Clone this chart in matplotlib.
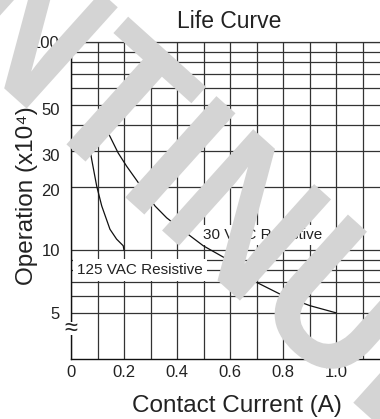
import matplotlib
matplotlib.use("Agg")
import matplotlib.pyplot as plt
from matplotlib.font_manager import FontProperties
from matplotlib.patches import PathPatch
from matplotlib.textpath import TextPath
from matplotlib.transforms import Affine2D, ScaledTranslation
from matplotlib.ticker import FixedLocator, NullFormatter

plt.rcParams['font.family'] = ['Liberation Sans', 'DejaVu Sans']

# life curve, 125 VAC resistive load
vac_current = [0.066, 0.078, 0.097, 0.116, 0.147, 0.172, 0.197, 0.2]
vac_ops = [34.0, 27.3, 20.3, 16.3, 12.6, 11.3, 10.5, 10.0]

# life curve, 30 VDC resistive load
vdc_current = [0.105, 0.147, 0.178, 0.21, 0.254, 0.317, 0.361, 0.399,
               0.499, 0.588, 0.675, 0.801, 0.902, 1.0]
vdc_ops = [44.0, 35.2, 29.3, 25.3, 21.1, 16.3, 14.3, 13.1,
           10.5, 9.06, 7.27, 6.04, 5.41, 5.0]

x_ticks = [0, 0.2, 0.4, 0.6, 0.8, 1.0]
x_labels = ['0', '0.2', '0.4', '0.6', '0.8', '1.0']
x_minor = [0.1, 0.3, 0.5, 0.7, 0.9, 1.1]
y_ticks = [5, 10, 20, 30, 50, 100]
y_labels = ['5', '10', '20', '30', '50', '100']
y_minor = [6, 7, 8, 9, 40, 60, 70, 80, 90]

W, H = 380, 419
fig = plt.figure(figsize=(W / 100, H / 100), dpi=100)
ax = fig.add_axes([71 / W, 60 / H, 1.2 * 265 / W, 317 / H])

ax.set_yscale('log')
ax.set_xlim(0, 1.2)
ax.set_ylim(3, 100)

ax.xaxis.set_major_locator(FixedLocator(x_ticks))
ax.set_xticklabels(x_labels)
ax.xaxis.set_minor_locator(FixedLocator(x_minor))
ax.yaxis.set_major_locator(FixedLocator(y_ticks))
ax.set_yticklabels(y_labels)
ax.yaxis.set_minor_locator(FixedLocator(y_minor))
ax.yaxis.set_minor_formatter(NullFormatter())
ax.tick_params(which='both', length=0)
ax.tick_params(axis='x', pad=4.5, labelsize=12, colors='#222222')
ax.tick_params(axis='y', pad=8, labelsize=12, colors='#222222')

# a few y labels sit slightly below their lines on the sheet
for lab in ax.get_yticklabels():
    dy = {'50': -4.5, '30': -4.5, '20': -3}.get(lab.get_text(), 0)
    if dy:
        lab.set_transform(lab.get_transform() + ScaledTranslation(0, dy / 100, fig.dpi_scale_trans))

ax.grid(which='both', color='#333333', linewidth=0.9)
for side in ['left', 'bottom']:
    ax.spines[side].set_color('#111111')
    ax.spines[side].set_linewidth(1.0)
ax.spines['top'].set_color('#333333')
ax.spines['top'].set_linewidth(0.9)
ax.spines['right'].set_visible(False)

ax.plot(vac_current, vac_ops, color='#111111', lw=0.9, zorder=4)
ax.plot(vdc_current, vdc_ops, color='#111111', lw=0.9, zorder=4)

ax.text(0.0226, 7.67, '125 VAC Resistive', fontsize=11, va='baseline',
        color='#222222', bbox=dict(facecolor='white', edgecolor='none', pad=3), zorder=3)
ax.text(0.498, 11.29, '30 VDC Resistive', fontsize=11, va='baseline',
        color='#222222', bbox=dict(facecolor='white', edgecolor='none', pad=2), zorder=3)

# axis break mark on the y axis
ax.vlines(0, 3.9, 4.51, color='white', lw=3, zorder=5, clip_on=False)
ax.text(0, 4.17, '≈', fontsize=17, ha='center', va='center',
        color='#222222', zorder=6, clip_on=False)

fig.text(229 / W, 1 - 28 / H, 'Life Curve', fontsize=16.5, ha='center',
         va='baseline', color='#222222')
fig.text(237 / W, 1 - 411.5 / H, 'Contact Current (A)', fontsize=17.5,
         ha='center', va='baseline', color='#222222')
fig.text(33 / W, 1 - 196 / H, 'Operation (x10⁴)', fontsize=17.5, rotation=90,
         rotation_mode='anchor', ha='center', va='baseline', color='#222222')

# diagonal "DISCONTINUED" stamp across the sheet, anchored at the foot of the T
wm_prop = FontProperties(family='Liberation Sans', weight='bold')
wm_size = 198
wm_path = TextPath((0, 0), 'DISCONTINUED', size=wm_size, prop=wm_prop)
t_right = TextPath((0, 0), 'DISCONT', size=wm_size, prop=wm_prop).get_extents().x1
t_width = TextPath((0, 0), 'T', size=wm_size, prop=wm_prop).get_extents().width
t_mid = t_right - t_width / 2
wm_tf = (Affine2D().translate(-t_mid, 0).scale(0.9, 1.0)
         .rotate_deg(-42).translate(76, H - 153))
stamp = PathPatch(wm_path, transform=wm_tf, facecolor='#d4d4d4',
                  edgecolor='none', zorder=10)
fig.add_artist(stamp)

fig.savefig('out.png', dpi=100)
